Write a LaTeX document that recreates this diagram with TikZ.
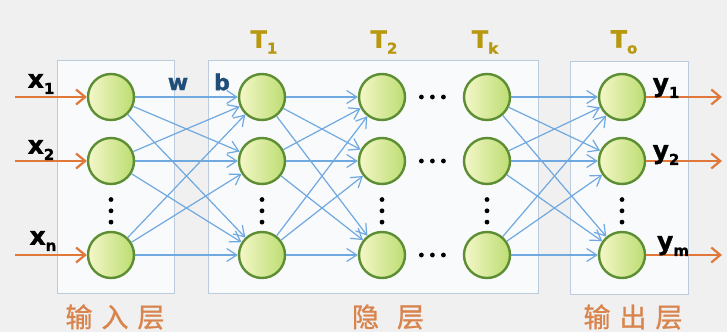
\documentclass[tikz,border=0pt]{standalone}
\usepackage{fontspec}
\setmainfont{DejaVu Sans}
\newfontfamily\heavy{DejaVu Sans Bold}[FakeBold=1.2]
\newfontfamily\cjk{Noto Sans CJK SC}[FakeBold=1]
\usetikzlibrary{arrows.meta,positioning,calc}

\definecolor{bggray}{HTML}{F0F0F0}
\definecolor{boxfill}{HTML}{F8FAFB}
\definecolor{boxline}{HTML}{BCCCDC}
\definecolor{linkblue}{HTML}{70A8E0}
\definecolor{ioorange}{HTML}{E0783A}
\definecolor{namecolor}{HTML}{D8844C}
\definecolor{nodegreen}{HTML}{5E8E34}
\definecolor{tgold}{HTML}{B8980E}
\definecolor{wbblue}{HTML}{1F4E79}
\definecolor{cellin}{HTML}{F4F7C8}
\definecolor{cellout}{HTML}{BCDD72}

\newcommand\subtxt[1]{\raisebox{-0.45ex}{\fontsize{15}{15}\selectfont #1}}

\tikzset{
  neuron/.style={circle, draw=nodegreen, line width=2.4pt, minimum size=46pt,
    inner sep=0pt, left color=cellin, right color=cellout},
  layerbox/.style={draw=boxline, fill=boxfill, line width=0.8pt},
  link/.style={draw=linkblue, line width=1.2pt, -{Straight Barb[length=10pt,width=13pt]}},
  ioarrow/.style={draw=ioorange, line width=2.2pt, -{Straight Barb[length=9pt,width=15pt]}},
  iolabel/.style={font=\heavy\fontsize{25}{25}\selectfont, text=black, inner sep=0pt},
  tlabel/.style={font=\heavy\fontsize{24}{24}\selectfont, text=tgold, inner sep=0pt},
  wblabel/.style={font=\heavy\fontsize{22}{22}\selectfont, text=wbblue, inner sep=0pt},
  layername/.style={font=\cjk\fontsize{27}{27}\selectfont, text=namecolor, inner sep=0pt}
}

\begin{document}
\begin{tikzpicture}[x=1pt,y=-1pt]
    % Background
    \fill[bggray] (0,0) rectangle (727,332);
    \useasboundingbox (0,0) rectangle (727,332);

    % Layer boxes
    \draw[layerbox] (57,60) rectangle (174,293);
    \draw[layerbox] (208,60) rectangle (538,293);
    \draw[layerbox] (570,61) rectangle (688,294);

    % Neurons: column, x
    \foreach \c/\x in {0/111,1/262,2/382,3/487,4/622}{
      \node[neuron] (n\c1) at (\x,97) {};
      \node[neuron] (n\c2) at (\x,161) {};
      \node[neuron] (n\c3) at (\x,255) {};
    }

    % Weights between layers
    \foreach \a/\b in {0/1,1/2,3/4}
      \foreach \i in {1,2,3}
        \foreach \j in {1,2,3}
          \draw[link] (n\a\i) -- (n\b\j);

    % Vertical dots
    \foreach \c in {0,...,4}
      \foreach \f in {0.41,0.53,0.65}
        \fill ($(n\c2)!\f!(n\c3)$) circle (2.4pt);

    % Horizontal dots
    \foreach \r in {1,2,3}
      \foreach \f in {0.375,0.48,0.585}
        \fill ($(n2\r)!\f!(n3\r)$) circle (2.4pt);

    % Inputs
    \coordinate (xin1) at (15,97);
    \coordinate (xin2) at (15,161);
    \coordinate (xin3) at (15,255);
    \draw[ioarrow] (xin1) -- (n01);
    \draw[ioarrow] (xin2) -- (n02);
    \draw[ioarrow] (xin3) -- (n03);
    \node[iolabel] (x1) at (41,84) {x\subtxt{1}};
    \node[iolabel] (x2) at (41,150) {x\subtxt{2}};
    \node[iolabel] (xn) at (43,241) {x\subtxt{n}};

    % Outputs
    \coordinate (yout1) at (722,97);
    \coordinate (yout2) at (722,161);
    \coordinate (yout3) at (722,255);
    \draw[ioarrow] (n41) -- (yout1);
    \draw[ioarrow] (n42) -- (yout2);
    \draw[ioarrow] (n43) -- (yout3);
    \node[iolabel] (y1) at (666,88) {y\subtxt{1}};
    \node[iolabel] (y2) at (666,155) {y\subtxt{2}};
    \node[iolabel] (ym) at (673,246) {y\subtxt{m}};

    % w and b
    \node[wblabel] (w) at (178,84) {w};
    \node[wblabel] (b) at (222,82) {b};

    % Layer titles
    \node[tlabel] (t1) at (264,42) {T\subtxt{1}};
    \node[tlabel] (t2) at (384,42) {T\subtxt{2}};
    \node[tlabel] (tk) at (485,42) {T\subtxt{k}};
    \node[tlabel] (to) at (624,42) {T\subtxt{o}};

    % Layer names
    \node[layername] (inname) at (115,317) {输\,\,入\,\,层};
    \node[layername] (hidname) at (388,317) {隐\,\,\,\,层};
    \node[layername] (outname) at (633,317) {输\,\,出\,\,层};
\end{tikzpicture}
\end{document}
